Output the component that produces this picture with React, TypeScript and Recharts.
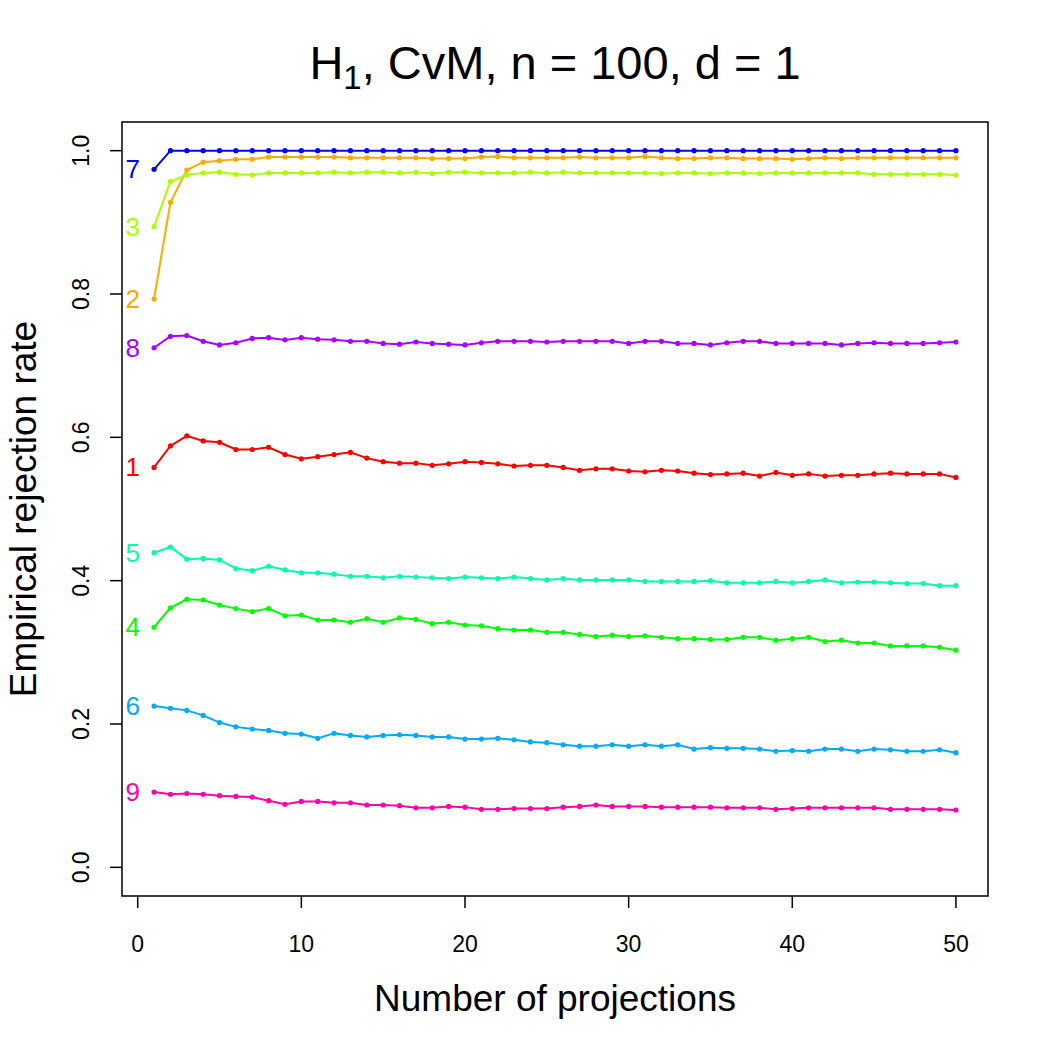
import React from "react";
import { LineChart, Line, XAxis, YAxis, ReferenceArea } from "recharts";

const FONT = "'Liberation Sans', Arial, Helvetica, sans-serif";

// number of projections
const projections = [
  1, 2, 3, 4, 5, 6, 7, 8, 9, 10, 11, 12, 13, 14, 15, 16, 17, 18, 19, 20, 21, 22, 23, 24, 25,
  26, 27, 28, 29, 30, 31, 32, 33, 34, 35, 36, 37, 38, 39, 40, 41, 42, 43, 44, 45, 46, 47, 48, 49, 50,
];

const xTicks = [0, 10, 20, 30, 40, 50];
const yTicks = [0, 0.2, 0.4, 0.6, 0.8, 1.0];

// empirical rejection rates, one array per alternative
const alt1 = [
  0.558, 0.588, 0.602, 0.595, 0.593, 0.583, 0.583, 0.586, 0.576, 0.570, 0.573, 0.576, 0.579, 0.571, 0.566, 0.564,
  0.564, 0.561, 0.563, 0.566, 0.565, 0.563, 0.560, 0.561, 0.561, 0.558, 0.554, 0.556, 0.556, 0.553, 0.552, 0.554,
  0.553, 0.550, 0.548, 0.549, 0.550, 0.546, 0.551, 0.547, 0.549, 0.546, 0.547, 0.547, 0.549, 0.550, 0.549, 0.549,
  0.549, 0.544,
];
const alt2 = [
  0.793, 0.928, 0.973, 0.984, 0.986, 0.988, 0.988, 0.991, 0.991, 0.991, 0.991, 0.991, 0.990, 0.990, 0.990, 0.990,
  0.990, 0.989, 0.989, 0.989, 0.991, 0.992, 0.990, 0.990, 0.990, 0.990, 0.991, 0.990, 0.990, 0.990, 0.992, 0.990,
  0.989, 0.989, 0.990, 0.990, 0.989, 0.989, 0.989, 0.988, 0.989, 0.990, 0.989, 0.990, 0.990, 0.990, 0.990, 0.990,
  0.990, 0.990,
];
const alt3 = [
  0.894, 0.957, 0.966, 0.969, 0.970, 0.967, 0.966, 0.969, 0.969, 0.969, 0.969, 0.970, 0.969, 0.970, 0.970, 0.969,
  0.970, 0.968, 0.970, 0.970, 0.969, 0.969, 0.969, 0.970, 0.969, 0.970, 0.969, 0.969, 0.969, 0.969, 0.969, 0.968,
  0.969, 0.969, 0.968, 0.969, 0.969, 0.968, 0.969, 0.969, 0.969, 0.969, 0.969, 0.969, 0.967, 0.967, 0.967, 0.967,
  0.967, 0.966,
];
const alt4 = [
  0.335, 0.362, 0.374, 0.373, 0.366, 0.361, 0.357, 0.361, 0.351, 0.352, 0.345, 0.345, 0.342, 0.347, 0.342, 0.348,
  0.346, 0.340, 0.342, 0.338, 0.337, 0.333, 0.331, 0.331, 0.328, 0.328, 0.325, 0.322, 0.324, 0.322, 0.323, 0.321,
  0.319, 0.319, 0.318, 0.318, 0.321, 0.321, 0.317, 0.319, 0.321, 0.315, 0.317, 0.313, 0.313, 0.309, 0.309, 0.309,
  0.307, 0.303,
];
const alt5 = [
  0.439, 0.447, 0.430, 0.431, 0.429, 0.417, 0.414, 0.420, 0.415, 0.411, 0.411, 0.409, 0.406, 0.406, 0.404, 0.406,
  0.405, 0.404, 0.403, 0.405, 0.404, 0.403, 0.405, 0.403, 0.401, 0.403, 0.401, 0.401, 0.401, 0.401, 0.399, 0.399,
  0.399, 0.399, 0.400, 0.397, 0.397, 0.397, 0.399, 0.397, 0.399, 0.401, 0.397, 0.398, 0.398, 0.397, 0.396, 0.396,
  0.393, 0.393,
];
const alt6 = [
  0.225, 0.222, 0.219, 0.212, 0.202, 0.196, 0.193, 0.191, 0.187, 0.186, 0.180, 0.187, 0.184, 0.182, 0.184, 0.185,
  0.184, 0.182, 0.182, 0.179, 0.179, 0.180, 0.178, 0.175, 0.174, 0.171, 0.169, 0.169, 0.171, 0.169, 0.171, 0.169,
  0.171, 0.165, 0.167, 0.166, 0.166, 0.165, 0.162, 0.163, 0.162, 0.165, 0.165, 0.162, 0.165, 0.164, 0.162, 0.162,
  0.164, 0.160,
];
const alt7 = [
  0.974, 1.0, 1.0, 1.0, 1.0, 1.0, 1.0, 1.0, 1.0, 1.0, 1.0, 1.0, 1.0, 1.0, 1.0, 1.0,
  1.0, 1.0, 1.0, 1.0, 1.0, 1.0, 1.0, 1.0, 1.0, 1.0, 1.0, 1.0, 1.0, 1.0, 1.0, 1.0,
  1.0, 1.0, 1.0, 1.0, 1.0, 1.0, 1.0, 1.0, 1.0, 1.0, 1.0, 1.0, 1.0, 1.0, 1.0, 1.0,
  1.0, 1.0,
];
const alt8 = [
  0.725, 0.741, 0.742, 0.734, 0.729, 0.732, 0.738, 0.739, 0.736, 0.739, 0.737, 0.736, 0.734, 0.734, 0.731, 0.730,
  0.733, 0.731, 0.730, 0.729, 0.732, 0.734, 0.734, 0.734, 0.733, 0.734, 0.734, 0.734, 0.734, 0.731, 0.734, 0.734,
  0.731, 0.731, 0.729, 0.732, 0.734, 0.734, 0.731, 0.731, 0.731, 0.731, 0.729, 0.731, 0.732, 0.731, 0.731, 0.731,
  0.732, 0.733,
];
const alt9 = [
  0.105, 0.102, 0.103, 0.102, 0.100, 0.099, 0.098, 0.093, 0.088, 0.092, 0.092, 0.090, 0.090, 0.087, 0.087, 0.086,
  0.083, 0.083, 0.085, 0.084, 0.081, 0.081, 0.082, 0.082, 0.082, 0.084, 0.085, 0.087, 0.085, 0.085, 0.085, 0.084,
  0.084, 0.084, 0.084, 0.083, 0.083, 0.083, 0.081, 0.082, 0.083, 0.083, 0.083, 0.083, 0.083, 0.081, 0.081, 0.081,
  0.081, 0.080,
];

const seriesNames = ["1", "2", "3", "4", "5", "6", "7", "8", "9"];
const seriesValues = [alt1, alt2, alt3, alt4, alt5, alt6, alt7, alt8, alt9];
// rainbow(9)
const seriesColors = [
  "#FF0000", "#FFAA00", "#AAFF00", "#00FF00", "#00FFAA", "#00AAFF", "#0000FF", "#AA00FF", "#FF00AA",
];

const rows = projections.map((k, i) => {
  const row: Record<string, number> = { k };
  seriesNames.forEach((name, s) => {
    row["s" + name] = seriesValues[s][i];
  });
  return row;
});

const XTick = (props: any) => {
  const { x, payload } = props;
  return (
    <text x={x} y={952} textAnchor="middle" fontSize={23} fontFamily={FONT} fill="#000">
      {payload.value}
    </text>
  );
};

const YTick = (props: any) => {
  const { y, payload } = props;
  return (
    <text
      x={89}
      y={y}
      transform={`rotate(-90, 89, ${y})`}
      textAnchor="middle"
      fontSize={23}
      fontFamily={FONT}
      fill="#000"
    >
      {Number(payload.value).toFixed(1)}
    </text>
  );
};

// point marker; the first point also carries the series number to its left
const makeDot = (name: string, color: string) => (props: any) => {
  const { cx, cy, index } = props;
  return (
    <g key={`dot-${name}-${index}`}>
      <circle cx={cx} cy={cy} r={2.6} fill={color} stroke="none" />
      {index === 0 && (
        <text
          x={cx - 14}
          y={cy}
          textAnchor="end"
          dominantBaseline="central"
          fontSize={26}
          fontFamily={FONT}
          fill={color}
        >
          {name}
        </text>
      )}
    </g>
  );
};

export default function App() {
  return (
    <div style={{ position: "absolute", left: 0, top: 0, width: 1050, height: 1050, background: "#fff" }}>
      <LineChart
        width={1050}
        height={1050}
        data={rows}
        margin={{ top: 122, right: 62, bottom: 104, left: 62 }}
      >
        <XAxis
          dataKey="k"
          type="number"
          domain={[-0.96, 51.96]}
          allowDataOverflow
          ticks={xTicks}
          height={50}
          axisLine={false}
          tickSize={12}
          tickLine={{ stroke: "#000", strokeWidth: 1.5 }}
          tick={<XTick />}
        />
        <YAxis
          type="number"
          domain={[-0.04, 1.04]}
          allowDataOverflow
          ticks={yTicks}
          width={60}
          axisLine={false}
          tickSize={12}
          tickLine={{ stroke: "#000", strokeWidth: 1.5 }}
          tick={<YTick />}
        />
        <ReferenceArea
          x1={-0.96}
          x2={51.96}
          y1={-0.04}
          y2={1.04}
          fill="none"
          stroke="#000"
          strokeWidth={1.5}
          fillOpacity={0}
        />
        {seriesNames.map((name, s) => (
          <Line
            key={name}
            type="linear"
            dataKey={"s" + name}
            stroke={seriesColors[s]}
            strokeWidth={2}
            dot={makeDot(name, seriesColors[s])}
            activeDot={false}
            isAnimationActive={false}
          />
        ))}
      </LineChart>
      <svg
        width={1050}
        height={1050}
        style={{ position: "absolute", left: 0, top: 0, pointerEvents: "none" }}
        fontFamily={FONT}
      >
        <text x={555} y={79} textAnchor="middle" fontSize={47} fill="#000">
          H<tspan fontSize={33} dy={10}>1</tspan>
          <tspan dy={-10}>, CvM, n = 100, d = 1</tspan>
        </text>
        <text x={555} y={1011} textAnchor="middle" fontSize={37} fill="#000">
          Number of projections
        </text>
        <text
          x={36}
          y={509}
          transform="rotate(-90, 36, 509)"
          textAnchor="middle"
          fontSize={37}
          fill="#000"
        >
          Empirical rejection rate
        </text>
      </svg>
    </div>
  );
}
